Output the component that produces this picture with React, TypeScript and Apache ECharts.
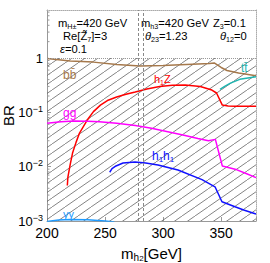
import React, { useEffect, useRef } from 'react';
import * as echarts from 'echarts';

// ---- data ----
const bbM = [200, 220, 240, 260, 280, 300, 320, 340, 344, 350, 355, 365, 380];
const bbBR = [0.98, 0.88, 0.84, 0.76, 0.71, 0.73, 0.76, 0.79, 0.81, 0.67, 0.59, 0.53, 0.47];

const ttM = [349, 353, 358, 366, 373, 380];
const ttBR = [0.265, 0.3, 0.345, 0.405, 0.43, 0.45];

const hzM = [217.5, 218, 220, 222, 225, 228, 235, 240, 246, 252, 260, 268, 276, 286, 297, 308, 319, 332, 342, 346, 351, 356, 362, 370, 380];
const hzBR = [0.0045, 0.0064, 0.011, 0.0178, 0.028, 0.0416, 0.074, 0.103, 0.136, 0.165, 0.191, 0.215, 0.236, 0.27, 0.3, 0.315, 0.318, 0.3, 0.257, 0.227, 0.136, 0.131, 0.13, 0.13, 0.13];

const ggM = [200, 212, 223, 235, 245, 260, 276, 290, 304, 318, 330, 339, 345, 351, 362, 372, 380];
const ggBR = [0.0627, 0.067, 0.069, 0.0685, 0.067, 0.063, 0.057, 0.051, 0.044, 0.038, 0.033, 0.03, 0.0318, 0.0103, 0.009, 0.0074, 0.0063];

const hhM = [254, 256, 259.4, 265.5, 275.8, 285, 295.6, 312.8, 333.5, 344.7, 350.7, 361.9, 370, 380];
const hhBR = [0.0079, 0.0092, 0.0103, 0.01165, 0.01215, 0.0117, 0.0107, 0.00866, 0.00578, 0.00426, 0.00226, 0.00183, 0.00158, 0.00135];

const aaM = [200, 210, 220, 235, 250, 258];
const aaBR = [0.00098, 0.00104, 0.00107, 0.00105, 0.001, 0.00096];

const xTicks = [200, 250, 300, 350];
const xMin = 200;
const xMax = 380;
const yMin = 0.001;
const yMax = 7.65;
const vLines = [278.5, 282.5];
const minorTickValues: number[] = [];
for (let n = -3; n <= 0; n++) {
  for (let k = 2; k <= 9; k++) {
    const v = k * Math.pow(10, n);
    if (v < yMax) minorTickValues.push(v);
  }
}

const zip = (a: number[], b: number[]) => a.map((v, i) => [v, b[i]]);

const FONT = 'Liberation Sans';

export default function App() {
  const ref = useRef<HTMLDivElement>(null);
  useEffect(() => {
    if (!ref.current) return;
    const chart = echarts.init(ref.current, undefined, { renderer: 'svg' });

    const cv = document.createElement('canvas');
    cv.width = 13;
    cv.height = 9;
    const ctx = cv.getContext('2d')!;
    ctx.strokeStyle = '#5a5a5a';
    ctx.lineWidth = 0.75;
    for (const o of [-13, 0, 13]) {
      ctx.beginPath();
      ctx.moveTo(o, 9);
      ctx.lineTo(o + 13, 0);
      ctx.stroke();
    }

    const mkRich = (c: string, fs: number) => ({
      n: { fontSize: fs, fontFamily: FONT, fill: c, lineHeight: fs + 2 },
      i: { fontSize: fs, fontFamily: FONT, fill: c, lineHeight: fs + 2, fontStyle: 'italic' },
      s: { fontSize: fs - 4, fontFamily: FONT, fill: c, lineHeight: 6, verticalAlign: 'bottom' },
    });
    const txt = (x: number, y: number, text: string, rich: any) => ({
      type: 'text',
      x,
      y,
      silent: true,
      z: 10,
      style: { text, rich, align: 'left', verticalAlign: 'middle', fontFamily: FONT },
    });
    const top = mkRich('#000', 11.2);

    const lineSeries = (name: string, m: number[], br: number[], color: string) => ({
      name,
      type: 'line',
      data: zip(m, br),
      showSymbol: false,
      symbol: 'none',
      clip: true,
      z: 3,
      lineStyle: { color, width: 1.5 },
    });

    chart.setOption({
      animation: false,
      grid: { left: 47, right: 14, top: 10, bottom: 42, containLabel: false, outerBoundsMode: 'none' },
      xAxis: [
        {
          type: 'value',
          min: xMin,
          max: xMax,
          interval: 50,
          name: '{n|m}{s|h}{t|2}{n|[GeV]}',
          nameLocation: 'middle',
          nameGap: 23,
          nameMoveOverlap: false,
          nameTextStyle: {
            rich: {
              n: { fontSize: 15, fontFamily: FONT, color: '#000', lineHeight: 18 },
              s: { fontSize: 10, fontFamily: FONT, color: '#000', lineHeight: 8, verticalAlign: 'bottom' },
              t: { fontSize: 8, fontFamily: FONT, color: '#000', lineHeight: 4, verticalAlign: 'bottom' },
            },
          },
          axisLine: { lineStyle: { color: '#999', width: 1 } },
          axisTick: { inside: true, length: 4, lineStyle: { color: '#999' } },
          axisLabel: {
            fontSize: 14,
            fontFamily: FONT,
            color: '#000',
            margin: 5,
            customValues: xTicks,
            alignMinLabel: 'center',
            alignMaxLabel: 'center',
            hideOverlap: false,
          },
          splitLine: { show: false },
        },
        {
          type: 'value',
          position: 'top',
          min: xMin,
          max: xMax,
          interval: 50,
          axisLine: { show: true, lineStyle: { color: '#aaa', type: 'dotted', width: 1 } },
          axisTick: { show: false },
          axisLabel: { show: false },
          splitLine: { show: false },
        },
      ],
      yAxis: [
        {
          type: 'log',
          logBase: 10,
          min: yMin,
          max: yMax,
          name: 'BR',
          nameLocation: 'middle',
          nameRotate: 90,
          nameGap: 31,
          nameMoveOverlap: false,
          nameTextStyle: { fontSize: 15, fontFamily: FONT, color: '#000' },
          axisLine: { show: true, lineStyle: { color: '#999', width: 1 } },
          axisTick: { inside: true, length: 4, lineStyle: { color: '#999' } },
          axisLabel: {
            margin: 4,
            showMaxLabel: false,
            formatter: (v: number) => {
              const l = Math.log10(v);
              const e = Math.round(l);
              if (Math.abs(l - e) > 1e-6 || e > 0) return '';
              if (e === 0) return '{b|1}';
              return '{b|10}{p|\u2212' + Math.abs(e) + '}';
            },
            rich: {
              b: { fontSize: 13, fontFamily: FONT, color: '#000', lineHeight: 16 },
              p: { fontSize: 9, fontFamily: FONT, color: '#000', lineHeight: 6, verticalAlign: 'top' },
            },
          },
          splitLine: { show: false },
        },
        {
          type: 'log',
          logBase: 10,
          min: yMin,
          max: yMax,
          position: 'right',
          axisLine: { show: true, lineStyle: { color: '#aaa', type: 'dotted', width: 1 } },
          axisTick: { show: false },
          axisLabel: { show: false },
          splitLine: { show: false },
        },
      ],
      graphic: [
        txt(58, 23, '{n|m}{s|H\u00b1}{n|=420 GeV}', top),
        txt(141, 23, '{n|m}{s|h3}{n|=420 GeV}', top),
        txt(213, 23, '{n|Z}{s|3}{n|=0.1}', top),
        txt(63, 36, '{n|Re[Z\u0303}{s|7}{n|]=3}', top),
        txt(145, 36, '{i|\u03b8}{s|23}{n|=1.23}', top),
        txt(220, 36, '{i|\u03b8}{s|12}{n|=0}', top),
        txt(60, 49, '{i|\u03b5}{n|=0.1}', top),
        txt(63, 75, '{n|bb\u0304}', mkRich('#a5784b', 12)),
        txt(154, 79, '{n|h}{s|1}{n|Z}', mkRich('#ff0000', 11)),
        txt(241, 68, '{n|tt\u0304}', mkRich('#1fb5b0', 12)),
        txt(63, 113, '{n|gg}', mkRich('#ff00ff', 12)),
        txt(152, 156, '{n|h}{s|1}{n|h}{s|1}', mkRich('#1010ff', 12)),
        txt(63, 214, '{n|\u03b3\u03b3}', mkRich('#1e9bff', 11)),
      ],
      series: [
        {
          name: 'hatch',
          type: 'line',
          data: [],
          silent: true,
          markArea: {
            silent: true,
            itemStyle: { color: { image: cv, repeat: 'repeat' } },
            data: [[{ coord: [xMin, yMin] }, { coord: [xMax, 1] }]],
          },
          markLine: {
            silent: true,
            symbol: 'none',
            label: { show: false },
            data: [
              { yAxis: 1, lineStyle: { color: '#999', type: 'dotted', width: 1 } },
              ...vLines.map((v) => ({ xAxis: v, lineStyle: { color: '#888', type: [3, 2], width: 1 } })),
            ],
          },
        },
        {
          name: 'minor',
          type: 'custom',
          silent: true,
          data: minorTickValues.map((v) => [xMin, v]),
          renderItem: (params: any, api: any) => {
            const p = api.coord([api.value(0), api.value(1)]);
            return {
              type: 'line',
              shape: { x1: p[0], y1: p[1], x2: p[0] + 2.5, y2: p[1] },
              style: { stroke: '#999', lineWidth: 1 },
            };
          },
          z: 4,
        },
        lineSeries('bb', bbM, bbBR, '#a5784b'),
        lineSeries('tt', ttM, ttBR, '#1fb5b0'),
        lineSeries('h1Z', hzM, hzBR, '#ff0000'),
        lineSeries('gg', ggM, ggBR, '#ff00ff'),
        lineSeries('h1h1', hhM, hhBR, '#1010ff'),
        lineSeries('aa', aaM, aaBR, '#1e9bff'),
      ],
    });
    return () => chart.dispose();
  }, []);
  return (
    <div
      ref={ref}
      style={{ position: 'fixed', left: 0, top: 0, width: 270, height: 263, background: '#fff' }}
    />
  );
}
